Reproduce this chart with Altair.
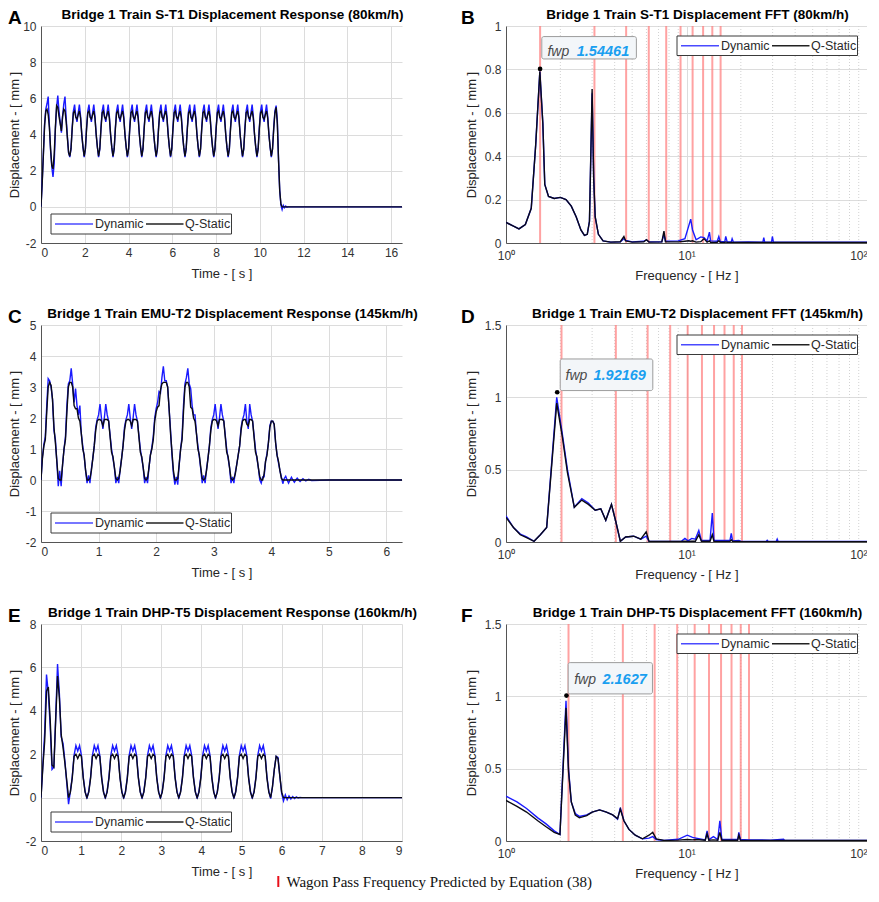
import altair as alt
import pandas as pd

FONT = "Liberation Sans"
W, H = 361, 217
SERIES = ["Dynamic", "Q-Static"]
COLORS = ["#1a1aff", "#0a0a16"]
DUMMY = pd.DataFrame({"k": [0]})

# ---------------- A : S-T1, 80 km/h (uniform step dt_A) ----------------
dt_A = 0.05483
qs_A_start = [0, 1.3, 2.9, 4.5, 5.3, 5.4, 5.1, 4.4, 3.2, 2.3, 2.1, 2.9,
              4.4, 5.6, 5.5, 5.0, 4.6, 4.2, 5.0, 5.4, 5.3, 4.7, 3.8, 3.0]
dyn_A_start = [0, 1.4, 3.0, 4.6, 5.4, 5.7, 6.1, 4.5, 3.1, 2.2, 1.65, 2.4,
               4.3, 5.5, 6.15, 5.3, 4.7, 4.1, 5.0, 5.7, 6.1, 4.9, 3.9, 3.0]
qs_A_cycles = [
    [2.8, 3.2, 4.3, 5.2, 5.3, 4.95, 4.85, 5.1, 5.3, 4.9, 4.0, 3.3],
    [2.8, 3.2, 4.3, 5.2, 5.3, 4.95, 4.85, 5.1, 5.3, 4.9, 4.0, 3.3],
    [2.8, 3.2, 4.3, 5.2, 5.3, 4.95, 4.85, 5.1, 5.3, 4.9, 4.0, 3.3],
    [2.8, 3.2, 4.3, 5.2, 5.3, 4.95, 4.85, 5.1, 5.3, 4.9, 4.0, 3.3],
    [2.8, 3.2, 4.3, 5.2, 5.3, 4.95, 4.85, 5.1, 5.3, 4.9, 4.0, 3.3],
    [2.8, 3.2, 4.3, 5.2, 5.3, 4.95, 4.85, 5.1, 5.3, 4.9, 4.0, 3.3],
    [2.8, 3.2, 4.3, 5.2, 5.3, 4.95, 4.85, 5.1, 5.3, 4.9, 4.0, 3.3],
    [2.8, 3.2, 4.3, 5.2, 5.3, 4.95, 4.85, 5.1, 5.3, 4.9, 4.0, 3.3],
    [2.8, 3.2, 4.3, 5.2, 5.3, 4.95, 4.85, 5.1, 5.3, 4.9, 4.0, 3.3],
    [2.8, 3.2, 4.3, 5.2, 5.3, 4.95, 4.85, 5.1, 5.3, 4.9, 4.0, 3.3],
    [2.8, 3.2, 4.3, 5.2, 5.3, 4.95, 4.85, 5.1, 5.3, 4.9, 4.0, 3.3],
    [2.8, 3.2, 4.3, 5.2, 5.3, 4.95, 4.85, 5.1, 5.3, 4.9, 4.0, 3.3],
    [2.8, 3.2, 4.3, 5.2, 5.3, 4.95, 4.85, 5.1, 5.3, 4.9, 4.0, 3.3],
    [2.8, 3.2, 4.3, 5.2, 5.3, 4.95, 4.85, 5.1, 5.3, 4.9, 4.0, 3.3],
]
dyn_A_cycles = [
    [2.75, 3.2, 4.4, 5.3, 5.65, 5.0, 4.7, 5.2, 5.65, 5.0, 4.0, 3.3],
    [2.75, 3.2, 4.4, 5.3, 5.65, 5.0, 4.7, 5.2, 5.65, 5.0, 4.0, 3.3],
    [2.75, 3.2, 4.4, 5.3, 5.65, 5.0, 4.7, 5.2, 5.65, 5.0, 4.0, 3.3],
    [2.75, 3.2, 4.4, 5.3, 5.65, 5.0, 4.7, 5.2, 5.65, 5.0, 4.0, 3.3],
    [2.75, 3.2, 4.4, 5.3, 5.65, 5.0, 4.7, 5.2, 5.65, 5.0, 4.0, 3.3],
    [2.75, 3.2, 4.4, 5.3, 5.65, 5.0, 4.7, 5.2, 5.65, 5.0, 4.0, 3.3],
    [2.75, 3.2, 4.4, 5.3, 5.65, 5.0, 4.7, 5.2, 5.65, 5.0, 4.0, 3.3],
    [2.75, 3.2, 4.4, 5.3, 5.65, 5.0, 4.7, 5.2, 5.65, 5.0, 4.0, 3.3],
    [2.75, 3.2, 4.4, 5.3, 5.65, 5.0, 4.7, 5.2, 5.65, 5.0, 4.0, 3.3],
    [2.75, 3.2, 4.4, 5.3, 5.65, 5.0, 4.7, 5.2, 5.65, 5.0, 4.0, 3.3],
    [2.75, 3.2, 4.4, 5.3, 5.65, 5.0, 4.7, 5.2, 5.65, 5.0, 4.0, 3.3],
    [2.75, 3.2, 4.4, 5.3, 5.65, 5.0, 4.7, 5.2, 5.65, 5.0, 4.0, 3.3],
    [2.75, 3.2, 4.4, 5.3, 5.65, 5.0, 4.7, 5.2, 5.65, 5.0, 4.0, 3.3],
    [2.75, 3.2, 4.4, 5.3, 5.65, 5.0, 4.7, 5.2, 5.65, 5.0, 4.0, 3.3],
]
qs_A_end = [2.8, 3.2, 4.3, 5.2, 5.5, 4.6, 2.6, 0.9, 0.15, 0.0, 0.0, 0.0, 0.0, 0.0, 0.0]
dyn_A_end = [2.75, 3.2, 4.4, 5.3, 5.6, 4.8, 2.6, 0.9, 0.1, -0.15, 0.08, -0.05, 0.04, -0.02, 0.0]
tail_t_A = [12.0, 16.5]
tail_qs_A = [0.0, 0.0]
tail_dyn_A = [0.0, 0.0]

# ---------------- C : EMU-T2, 145 km/h (uniform step dt_C) ----------------
dt_C = 0.025
qs_C_parts = [
    [0, 0.7, 1.1, 1.3, 2.2, 3.0, 3.15, 3.05, 2.6, 1.7, 1.2, 0.6, 0.05, 0.0, 0.0],
    [0.5, 1.0, 1.3, 2.2, 3.0, 3.15, 3.15, 3.0, 2.4, 2.3, 2.3, 2.0, 1.9, 1.5, 1.0, 0.8, 0.3, 0.0, 0.0, 0.05],
    [0.3, 0.7, 1.1, 1.6, 1.9, 1.95, 1.95, 1.9, 1.75, 1.95, 1.95, 1.95, 1.9, 1.4, 0.9, 0.75, 0.4, 0.05, 0.0, 0.05],
    [0.3, 0.7, 1.1, 1.6, 1.9, 1.95, 1.95, 1.9, 1.75, 1.95, 1.95, 1.95, 1.9, 1.4, 0.9, 0.75, 0.4, 0.05, 0.0, 0.05],
    [0.4, 0.8, 1.0, 1.3, 1.9, 2.2, 2.35, 2.4, 2.9, 3.1, 3.15, 3.15, 3.15, 3.0, 2.3, 1.5, 0.9, 0.3, 0.0, 0.0, 0.05],
    [0.5, 1.0, 1.3, 2.2, 3.0, 3.15, 3.15, 3.0, 2.35, 2.3, 2.0, 1.9, 1.5, 1.0, 0.8, 0.4, 0.05, 0.0, 0.05],
    [0.3, 0.7, 1.1, 1.6, 1.9, 1.95, 1.95, 1.9, 1.75, 1.95, 1.95, 1.95, 1.9, 1.4, 0.9, 0.75, 0.4, 0.05, 0.0, 0.05],
    [0.2, 0.5, 0.8, 1.1, 1.6, 1.9, 1.95, 1.95, 1.8, 1.75, 1.95, 1.95, 1.9, 1.4, 0.9, 0.75, 0.4, 0.1, 0.0, 0.0],
    [0.2, 0.6, 0.8, 1.2, 1.7, 1.9, 1.9, 1.8, 1.2, 0.8, 0.6, 0.3, 0.05, 0.0],
    [0.0, 0.0, 0.0, 0.0, 0.0, 0.0, 0.0, 0.0, 0.0, 0.0, 0.0, 0.0, 0.0, 0.0, 0.0, 0.0, 0.0, 0.0, 0.0, 0.0],
]
dyn_C_parts = [
    [0, 0.75, 1.15, 1.4, 2.4, 3.27, 3.2, 3.0, 2.6, 1.6, 1.3, 0.6, -0.2, 0.3, -0.2],
    [0.5, 1.0, 1.4, 2.4, 3.1, 3.2, 3.6, 3.1, 2.5, 2.95, 2.4, 2.1, 2.4, 1.5, 1.1, 0.75, 0.3, -0.1, 0.15, -0.1],
    [0.35, 0.7, 1.1, 1.7, 1.95, 2.1, 2.45, 2.0, 1.65, 2.0, 2.45, 2.1, 1.9, 1.45, 1.0, 0.7, 0.4, -0.1, 0.1, -0.1],
    [0.35, 0.7, 1.1, 1.7, 1.95, 2.1, 2.45, 2.0, 1.65, 2.0, 2.45, 2.1, 1.9, 1.45, 1.0, 0.7, 0.4, -0.1, 0.1, -0.1],
    [0.4, 0.8, 1.05, 1.4, 2.0, 2.3, 2.5, 2.85, 2.8, 3.3, 3.67, 3.2, 3.2, 3.0, 2.3, 1.6, 0.8, 0.2, -0.15, 0.1, -0.15],
    [0.5, 1.0, 1.4, 2.4, 3.1, 3.3, 3.6, 3.1, 2.95, 2.4, 2.1, 2.1, 1.5, 1.1, 0.75, 0.35, -0.1, 0.15, -0.1],
    [0.35, 0.7, 1.1, 1.7, 1.95, 2.1, 2.45, 2.0, 1.65, 2.0, 2.45, 2.1, 1.9, 1.45, 1.0, 0.7, 0.4, -0.1, 0.1, -0.1],
    [0.25, 0.5, 0.8, 1.1, 1.7, 1.95, 2.1, 2.45, 1.9, 1.65, 2.45, 2.1, 1.9, 1.45, 1.0, 0.7, 0.4, 0.0, -0.1, 0.1],
    [0.1, 0.6, 0.85, 1.2, 1.75, 1.9, 1.9, 1.8, 1.2, 0.8, 0.55, 0.3, 0.1, -0.12],
    [0.05, 0.12, 0.0, -0.1, 0.0, 0.09, 0.0, -0.07, 0.0, 0.06, 0.0, -0.05, 0.0, 0.04, 0.0, -0.03, 0.0, 0.02, 0.0, -0.02],
]
tail_t_C = [5.0, 6.27]
tail_qs_C = [0.0, 0.0]
tail_dyn_C = [0.0, 0.0]

# ---------------- E : DHP-T5, 160 km/h (uniform step dt_E) ----------------
dt_E = 0.0458
qs_E_start = [0, 1.4, 2.6, 4.9, 5.1, 3.6, 1.5, 1.4, 3.6, 5.6, 4.6, 2.9, 2.3, 1.6, 0.8]
dyn_E_start = [0, 1.5, 3.0, 5.67, 4.8, 3.3, 1.3, 1.4, 3.7, 6.15, 4.8, 2.8, 2.5, 1.7, 0.7]
qs_E_cycles = [
    [0.0, 0.25, 0.9, 1.9, 2.0, 1.8, 2.0, 1.9, 0.9, 0.25],
    [0.0, 0.25, 0.9, 1.9, 2.0, 1.8, 2.0, 1.9, 0.9, 0.25],
    [0.0, 0.25, 0.9, 1.9, 2.0, 1.8, 2.0, 1.9, 0.9, 0.25],
    [0.0, 0.25, 0.9, 1.9, 2.0, 1.8, 2.0, 1.9, 0.9, 0.25],
    [0.0, 0.25, 0.9, 1.9, 2.0, 1.8, 2.0, 1.9, 0.9, 0.25],
    [0.0, 0.25, 0.9, 1.9, 2.0, 1.8, 2.0, 1.9, 0.9, 0.25],
    [0.0, 0.25, 0.9, 1.9, 2.0, 1.8, 2.0, 1.9, 0.9, 0.25],
    [0.0, 0.25, 0.9, 1.9, 2.0, 1.8, 2.0, 1.9, 0.9, 0.25],
    [0.0, 0.25, 0.9, 1.9, 2.0, 1.8, 2.0, 1.9, 0.9, 0.25],
    [0.0, 0.25, 0.9, 1.9, 2.0, 1.8, 2.0, 1.9, 0.9, 0.25],
    [0.0, 0.25, 0.9, 1.9, 2.0, 1.8, 2.0, 1.9, 0.9, 0.25],
]
dyn_E_cycles = [
    [-0.3, 0.3, 0.95, 1.95, 2.4, 2.15, 2.4, 1.95, 0.95, 0.3],
    [-0.05, 0.3, 0.95, 1.95, 2.4, 2.15, 2.4, 1.95, 0.95, 0.3],
    [-0.05, 0.3, 0.95, 1.95, 2.4, 2.15, 2.4, 1.95, 0.95, 0.3],
    [-0.05, 0.3, 0.95, 1.95, 2.4, 2.15, 2.4, 1.95, 0.95, 0.3],
    [-0.05, 0.3, 0.95, 1.95, 2.4, 2.15, 2.4, 1.95, 0.95, 0.3],
    [-0.05, 0.3, 0.95, 1.95, 2.4, 2.15, 2.4, 1.95, 0.95, 0.3],
    [-0.05, 0.3, 0.95, 1.95, 2.4, 2.15, 2.4, 1.95, 0.95, 0.3],
    [-0.05, 0.3, 0.95, 1.95, 2.4, 2.15, 2.4, 1.95, 0.95, 0.3],
    [-0.05, 0.3, 0.95, 1.95, 2.4, 2.15, 2.4, 1.95, 0.95, 0.3],
    [-0.05, 0.3, 0.95, 1.95, 2.4, 2.15, 2.4, 1.95, 0.95, 0.3],
    [-0.05, 0.3, 0.95, 1.95, 2.4, 2.15, 2.4, 1.95, 0.95, 0.3],
]
qs_E_end = [0.0, 0.5, 1.3, 1.9, 1.8, 1.0, 0.25, 0.0, 0.0, 0.0, 0.0, 0.0, 0.0, 0.0, 0.0, 0.0, 0.0, 0.0]
dyn_E_end = [-0.05, 0.5, 1.3, 1.9, 1.85, 1.0, 0.2, -0.15, 0.12, -0.1, 0.08, -0.06, 0.05, -0.04, 0.03, -0.02, 0.01, 0.0]
tail_t_E = [7.0, 9.0]
tail_qs_E = [0.0, 0.0]
tail_dyn_E = [0.0, 0.0]

# ---------------- FFT spectra ----------------
f_B = [1.0, 1.1, 1.18, 1.28, 1.38, 1.46, 1.54, 1.6, 1.64, 1.72, 1.85, 2.0, 2.15, 2.3, 2.45,
       2.6, 2.72, 2.82, 2.9, 3.0, 3.06, 3.12, 3.25, 3.45, 3.8, 4.3, 4.5, 4.6, 5.0, 5.8,
       6.0, 6.2, 7.3, 7.5, 7.65, 9.0, 9.8, 10.3, 10.55, 10.8, 11.3, 12.0, 12.5, 13.0, 13.4,
       13.6, 14.8, 15.1, 15.4, 16.3, 16.5, 16.8, 17.7, 17.9, 18.2, 22.0, 26.5, 26.8, 27.1, 29.6,
       29.9, 30.3, 40.0, 60.0, 100.0]
dyn_B = [0.095, 0.078, 0.065, 0.085, 0.16, 0.45, 0.79, 0.55, 0.27, 0.215, 0.205, 0.21, 0.2, 0.17, 0.12,
         0.06, 0.035, 0.04, 0.1, 0.69, 0.3, 0.12, 0.04, 0.01, 0.004, 0.005, 0.02, 0.012, 0.005, 0.008,
         0.015, 0.005, 0.006, 0.04, 0.008, 0.01, 0.02, 0.08, 0.11, 0.06, 0.015, 0.028, 0.025, 0.01, 0.05,
         0.01, 0.008, 0.03, 0.006, 0.006, 0.03, 0.005, 0.005, 0.02, 0.004, 0.005, 0.004, 0.025, 0.004, 0.004,
         0.03, 0.004, 0.004, 0.004, 0.004]
qs_B = [0.095, 0.078, 0.065, 0.085, 0.16, 0.45, 0.79, 0.55, 0.27, 0.215, 0.205, 0.21, 0.2, 0.17, 0.12,
        0.06, 0.035, 0.04, 0.1, 0.71, 0.3, 0.12, 0.04, 0.01, 0.004, 0.006, 0.03, 0.01, 0.004, 0.006,
        0.015, 0.004, 0.005, 0.055, 0.006, 0.005, 0.008, 0.01, 0.008, 0.01, 0.004, 0.006, 0.02, 0.004, 0.01,
        0.003, 0.003, 0.01, 0.003, 0.003, 0.005, 0.003, 0.002, 0.004, 0.002, 0.002, 0.002, 0.003, 0.002, 0.002,
        0.003, 0.002, 0.002, 0.002, 0.002]
harm_B = [1.545, 3.09, 4.63, 6.18, 7.72, 9.27, 10.81, 12.36, 13.9, 15.45]

f_D = [1.0, 1.1, 1.2, 1.3, 1.43, 1.55, 1.68, 1.91, 2.05, 2.19, 2.39, 2.63, 2.86, 3.12, 3.35,
       3.57, 3.84, 4.06, 4.3, 4.6, 5.1, 5.58, 5.98, 6.2, 7.5, 9.4, 9.8, 10.2, 10.7, 11.2,
       11.7, 12.1, 13.5, 13.9, 14.2, 17.4, 17.7, 18.0, 19.5, 20.0, 27.6, 28.0, 28.4, 31.4, 31.8,
       32.2, 50.0, 100.0]
dyn_D = [0.18, 0.1, 0.055, 0.035, 0.005, 0.05, 0.1, 1.0, 0.75, 0.5, 0.24, 0.3, 0.27, 0.22, 0.23,
         0.15, 0.26, 0.14, 0.005, 0.035, 0.04, 0.02, 0.04, 0.004, 0.004, 0.006, 0.025, 0.008, 0.025, 0.02,
         0.08, 0.01, 0.01, 0.2, 0.01, 0.01, 0.06, 0.008, 0.01, 0.004, 0.004, 0.012, 0.004, 0.004, 0.02,
         0.004, 0.004, 0.004]
qs_D = [0.17, 0.1, 0.05, 0.03, 0.005, 0.05, 0.1, 0.96, 0.73, 0.48, 0.24, 0.29, 0.26, 0.22, 0.23,
        0.15, 0.26, 0.14, 0.005, 0.035, 0.04, 0.02, 0.07, 0.004, 0.003, 0.004, 0.005, 0.004, 0.005, 0.005,
        0.05, 0.005, 0.005, 0.05, 0.004, 0.004, 0.015, 0.004, 0.004, 0.003, 0.002, 0.003, 0.002, 0.002, 0.003,
        0.002, 0.002, 0.002]
harm_D = [2.03, 4.06, 6.09, 8.12, 10.15, 12.18, 14.21, 16.24, 18.27, 20.3]

f_F = [1.0, 1.15, 1.3, 1.5, 1.66, 1.85, 1.99, 2.15, 2.22, 2.3, 2.42, 2.55, 2.8, 3.0, 3.3,
       3.6, 3.9, 4.15, 4.3, 4.5, 4.8, 5.2, 5.7, 6.2, 6.5, 6.8, 7.5, 9.0, 10.1, 10.8,
       11.3, 12.7, 13.0, 13.3, 14.1, 14.9, 15.3, 15.7, 19.2, 19.5, 19.9, 22.2, 29.2, 34.5, 35.0,
       60.0, 100.0]
dyn_F = [0.31, 0.27, 0.225, 0.16, 0.12, 0.07, 0.045, 0.97, 0.5, 0.27, 0.19, 0.17, 0.18, 0.2, 0.215,
         0.2, 0.18, 0.15, 0.23, 0.14, 0.08, 0.04, 0.015, 0.02, 0.03, 0.01, 0.004, 0.012, 0.04, 0.025,
         0.02, 0.008, 0.07, 0.01, 0.03, 0.01, 0.14, 0.01, 0.01, 0.06, 0.01, 0.008, 0.006, 0.012, 0.004,
         0.004, 0.004]
qs_F = [0.28, 0.24, 0.2, 0.14, 0.1, 0.06, 0.045, 0.92, 0.48, 0.27, 0.18, 0.16, 0.175, 0.2, 0.215,
        0.2, 0.18, 0.155, 0.22, 0.14, 0.08, 0.04, 0.015, 0.04, 0.06, 0.015, 0.004, 0.006, 0.01, 0.008,
        0.01, 0.005, 0.05, 0.005, 0.008, 0.005, 0.06, 0.005, 0.005, 0.04, 0.005, 0.004, 0.004, 0.004, 0.003,
        0.003, 0.003]
harm_F = [2.22, 4.44, 6.66, 8.88, 11.1, 13.32, 15.54, 17.76, 19.98, 22.2]

MINOR_F = [2, 3, 4, 5, 6, 7, 8, 9, 20, 30, 40, 50, 60, 70, 80, 90]

tip_B = {"f": 1.54461, "amp": 0.802, "label": "1.54461"}
tip_D = {"f": 1.92169, "amp": 1.035, "label": "1.92169"}
tip_F = {"f": 2.1627, "amp": 1.005, "label": "2.1627"}

TITLES = {
    "A": "Bridge 1 Train S-T1 Displacement Response (80km/h)",
    "B": "Bridge 1 Train S-T1 Displacement FFT (80km/h)",
    "C": "Bridge 1 Train EMU-T2 Displacement Response (145km/h)",
    "D": "Bridge 1 Train EMU-T2 Displacement FFT (145km/h)",
    "E": "Bridge 1 Train DHP-T5 Displacement Response (160km/h)",
    "F": "Bridge 1 Train DHP-T5 Displacement FFT (160km/h)",
}
NOTE = "Wagon Pass Frequency Predicted by Equation (38)"


def flat(parts):
    out = []
    for p in parts:
        out += list(p)
    return out


def time_df(dt, qs, dyn, tail_t, tail_qs, tail_dyn):
    n = min(len(qs), len(dyn))
    t = [round(i * dt, 5) for i in range(n)] + list(tail_t)
    v_dyn = list(dyn[:n]) + list(tail_dyn)
    v_qs = list(qs[:n]) + list(tail_qs)
    return pd.DataFrame({"t": t + t, "v": v_dyn + v_qs,
                         "s": ["Dynamic"] * len(t) + ["Q-Static"] * len(t)})


def fft_df(f, dyn, qs):
    n = min(len(f), len(dyn), len(qs))
    ff = list(f[:n])
    return pd.DataFrame({"f": ff + ff, "amp": list(dyn[:n]) + list(qs[:n]),
                         "s": ["Dynamic"] * n + ["Q-Static"] * n})


def head_layers(letter, letter_x):
    """Panel letter and panel title, placed above the plot area."""
    let = alt.Chart(DUMMY).mark_text(text=letter, align="left", baseline="top", font=FONT,
                                     fontSize=19, fontWeight="bold", color="black").encode(
        x=alt.value(letter_x), y=alt.value(-17))
    ttl = alt.Chart(DUMMY).mark_text(text=TITLES[letter], align="center", baseline="alphabetic",
                                     font=FONT, fontSize=13.5, fontWeight="bold",
                                     color="black").encode(
        x=alt.value(W / 2 + 11), y=alt.value(-7))
    return [let, ttl]


def legend_layers(x0, y0, h):
    ym = y0 + h / 2
    box = alt.Chart(DUMMY).mark_rect(fill="white", stroke="#3a3a3a", strokeWidth=1).encode(
        x=alt.value(x0), x2=alt.value(x0 + 180.5), y=alt.value(y0), y2=alt.value(y0 + h))
    l1 = alt.Chart(DUMMY).mark_rule(color="#4a4aff", strokeWidth=1.5).encode(
        x=alt.value(x0 + 4), x2=alt.value(x0 + 42), y=alt.value(ym))
    t1 = alt.Chart(DUMMY).mark_text(text="Dynamic", align="left", baseline="middle", font=FONT,
                                    fontSize=12.5, color="#2a2a2a").encode(
        x=alt.value(x0 + 44), y=alt.value(ym))
    l2 = alt.Chart(DUMMY).mark_rule(color="#222222", strokeWidth=1.5).encode(
        x=alt.value(x0 + 95), x2=alt.value(x0 + 132.5), y=alt.value(ym))
    t2 = alt.Chart(DUMMY).mark_text(text="Q-Static", align="left", baseline="middle", font=FONT,
                                    fontSize=12.5, color="#2a2a2a").encode(
        x=alt.value(x0 + 134), y=alt.value(ym))
    return [box, l1, t1, l2, t2]


def color_enc():
    return alt.Color("s:N", scale=alt.Scale(domain=SERIES, range=COLORS), legend=None)


def time_panel(letter, df, xdom, xvals, ydom, yvals, extra=None):
    xenc = alt.X("t:Q", scale=alt.Scale(domain=xdom, nice=False, zero=False),
                 axis=alt.Axis(values=xvals, title="Time - [ s ]",
                               labelExpr="toString(datum.value)",
                               titleY=24.5, titleBaseline="top"))
    yenc = alt.Y("v:Q", scale=alt.Scale(domain=ydom, nice=False, zero=False),
                 axis=alt.Axis(values=yvals, title="Displacement - [ mm ]",
                               labelExpr="toString(datum.value)", labelPadding=5,
                               titleX=-19.5, titleY=H / 2, titleAngle=270,
                               titleBaseline="bottom", titleAlign="center"))
    lines = alt.Chart(df).mark_line(strokeWidth=1.4, clip=True).encode(
        x=xenc, y=yenc, color=color_enc())
    layers = [lines] + legend_layers(10, 188, 20) + head_layers(letter, -33)
    if extra:
        layers += extra
    return alt.layer(*layers).properties(width=W, height=H)


def fft_panel(letter, df, harm, tip, box, ydom, yvals):
    xs = alt.Scale(type="log", domain=[1, 100], nice=False)
    xaxis = alt.Axis(values=[1, 10, 100], title="Frequency - [ Hz ]",
                     labelExpr="datum.value == 1 ? '10⁰' : (datum.value == 10 ? '10¹' : '10²')",
                     labelAlign=alt.condition("datum.value == 100", alt.value("right"), alt.value("center")),
                     labelPadding=7, titleY=26.5, titleBaseline="top")
    xenc = alt.X("f:Q", scale=xs, axis=xaxis)
    yenc = alt.Y("amp:Q", scale=alt.Scale(domain=ydom, nice=False, zero=False),
                 axis=alt.Axis(values=yvals, title="Displacement - [ mm ]",
                               labelExpr="toString(datum.value)", labelPadding=5,
                               titleX=-27.5, titleY=H / 2, titleAngle=270,
                               titleBaseline="bottom", titleAlign="center"))
    minor = alt.Chart(pd.DataFrame({"f": MINOR_F})).mark_rule(
        color="#d2d2d2", strokeDash=[1, 2], strokeWidth=1).encode(
        x=xenc, y=alt.value(0), y2=alt.value(H))
    harmr = alt.Chart(pd.DataFrame({"f": harm})).mark_rule(
        color="#ff7b7b", strokeWidth=2, opacity=0.7).encode(
        x=xenc, y=alt.value(0), y2=alt.value(H))
    lines = alt.Chart(df).mark_line(strokeWidth=1.4, clip=True).encode(
        x=xenc, y=yenc, color=color_enc())
    tipdf = pd.DataFrame([tip])
    bx1, bx2, by1, by2, tdy, dx1, dx2 = box
    rect = alt.Chart(tipdf).mark_rect(
        fill="#f3f6f9", stroke="#9c9c9c", strokeWidth=1, cornerRadius=2,
        xOffset=bx1, x2Offset=bx2, yOffset=by1, y2Offset=by2).encode(
        x=xenc, x2=alt.X2("f"), y=yenc, y2=alt.Y2("amp"))
    t_fwp = alt.Chart(tipdf).mark_text(
        text="fwp", align="left", baseline="middle", dx=dx1, dy=tdy, font=FONT,
        fontSize=14, fontStyle="italic", color="#4a4a4a").encode(x=xenc, y=yenc)
    t_val = alt.Chart(tipdf).mark_text(
        align="left", baseline="middle", dx=dx2, dy=tdy, font=FONT,
        fontSize=14.5, fontStyle="italic", fontWeight="bold", color="#1a9ff0").encode(
        x=xenc, y=yenc, text="label:N")
    dot = alt.Chart(tipdf).mark_point(filled=True, color="black", size=22, opacity=1).encode(
        x=xenc, y=yenc)
    layers = [minor, harmr, lines, rect, t_fwp, t_val, dot] + legend_layers(171, 10, 19.5) + \
        head_layers(letter, -45)
    return alt.layer(*layers).properties(width=W, height=H)


df_A = time_df(dt_A, qs_A_start + flat(qs_A_cycles) + qs_A_end,
               dyn_A_start + flat(dyn_A_cycles) + dyn_A_end, tail_t_A, tail_qs_A, tail_dyn_A)
df_C = time_df(dt_C, flat(qs_C_parts), flat(dyn_C_parts), tail_t_C, tail_qs_C, tail_dyn_C)
df_E = time_df(dt_E, qs_E_start + flat(qs_E_cycles) + qs_E_end,
               dyn_E_start + flat(dyn_E_cycles) + dyn_E_end, tail_t_E, tail_qs_E, tail_dyn_E)

note_bar = alt.Chart(DUMMY).mark_rule(color="#e8101a", strokeWidth=2).encode(
    x=alt.value(237.3), y=alt.value(252), y2=alt.value(263))
note_txt = alt.Chart(DUMMY).mark_text(text=NOTE, align="left", baseline="middle",
                                      font="Liberation Serif", fontSize=15, color="#111111").encode(
    x=alt.value(245.5), y=alt.value(257.5))

pA = time_panel("A", df_A, [0, 16.5], [0, 2, 4, 6, 8, 10, 12, 14, 16],
                [-2, 10], [-2, 0, 2, 4, 6, 8, 10])
pC = time_panel("C", df_C, [0, 6.27], [0, 1, 2, 3, 4, 5, 6],
                [-2, 5], [-2, -1, 0, 1, 2, 3, 4, 5])
pE = time_panel("E", df_E, [0, 9], [0, 1, 2, 3, 4, 5, 6, 7, 8, 9],
                [-2, 8], [-2, 0, 2, 4, 6, 8], extra=[note_bar, note_txt])

pB = fft_panel("B", fft_df(f_B, dyn_B, qs_B), harm_B, tip_B,
               (1.7, 96.3, -32.4, -10, -16.7, 7.3, 36.7), [0, 1], [0, 0.2, 0.4, 0.6, 0.8, 1])
pD = fft_panel("D", fft_df(f_D, dyn_D, qs_D), harm_D, tip_D,
               (3, 95.6, -33.3, -1.7, -16, 8.3, 36.3), [0, 1.5], [0, 0.5, 1, 1.5])
pF = fft_panel("F", fft_df(f_F, dyn_F, qs_F), harm_F, tip_F,
               (1.7, 86, -33, -1.7, -16, 7.7, 36), [0, 1.5], [0, 0.5, 1, 1.5])

chart = alt.concat(pA, pB, pC, pD, pE, pF, columns=2,
                   spacing={"row": 82, "column": 104}, bounds="flush").properties(
    padding=0, background="white"
).configure_view(stroke=None).configure_axis(
    labelFont=FONT, labelFontSize=12, labelColor="#333333",
    titleFont=FONT, titleFontSize=13, titleFontWeight="normal", titleColor="#262626",
    grid=True, gridColor="#dcdcdc", gridWidth=1,
    domainColor="#555555", domainWidth=1, ticks=False, labelPadding=4
)

chart.save("out.html", embed_options={"renderer": "svg", "actions": False})
